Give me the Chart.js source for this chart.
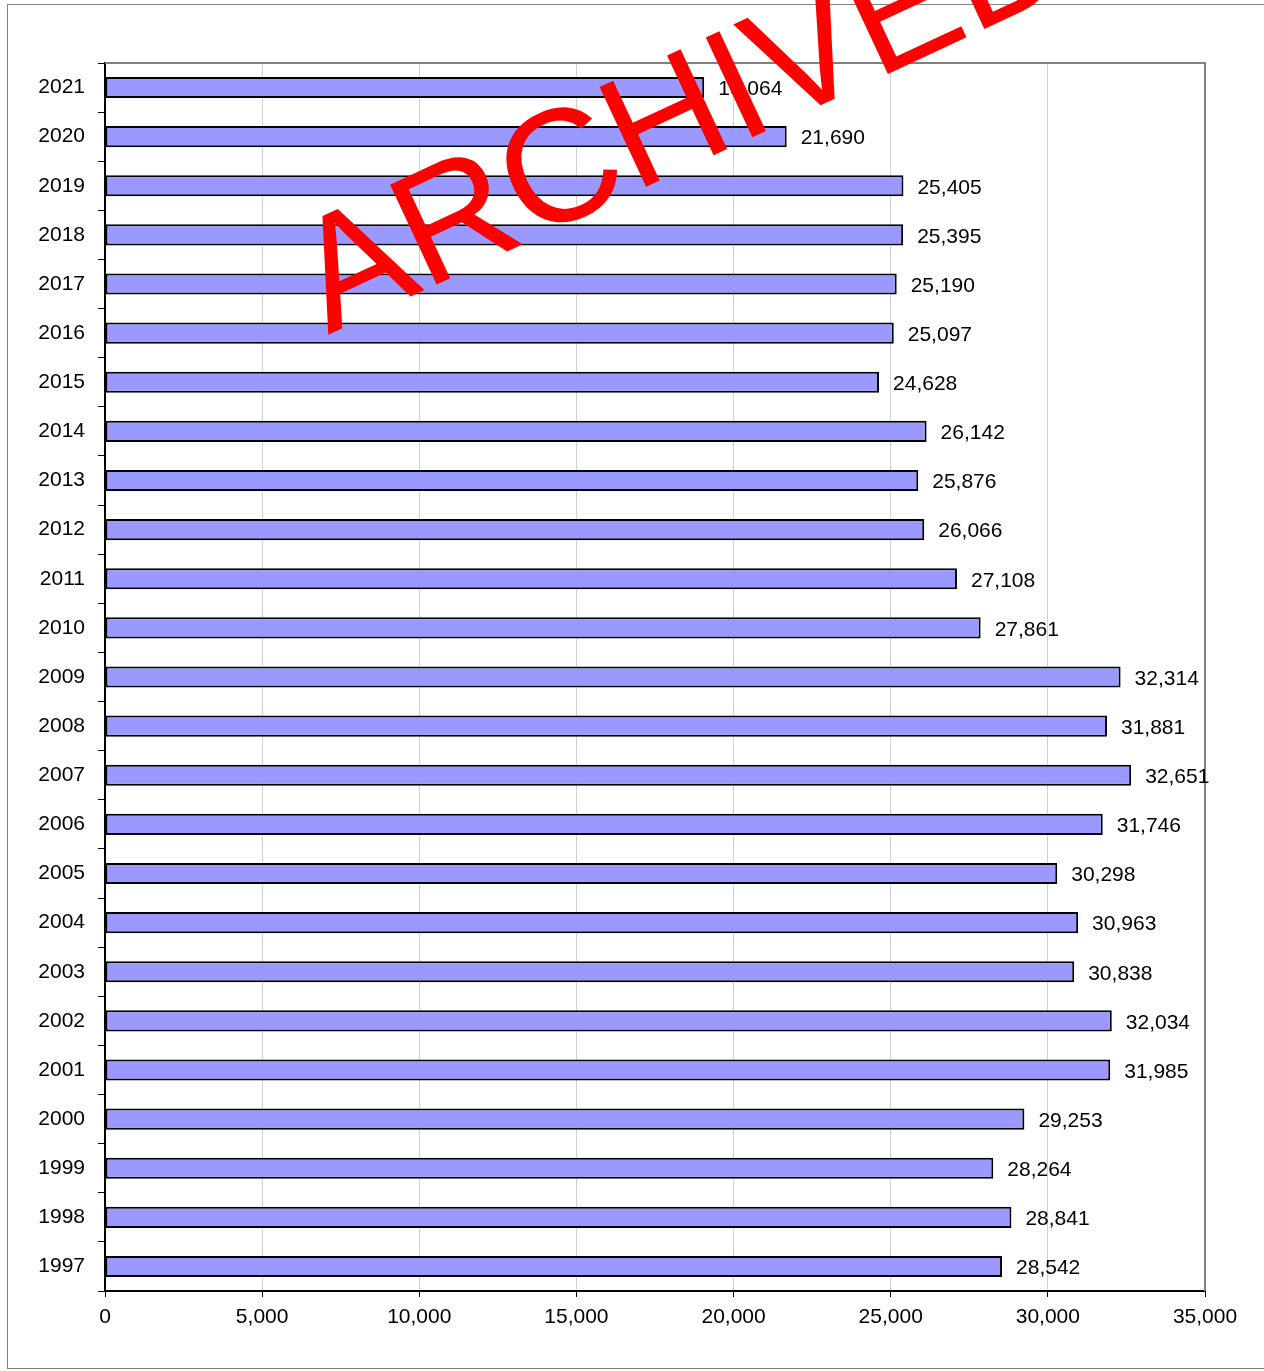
<!DOCTYPE html>
<html>
<head>
<meta charset="utf-8">
<script src="https://cdn.jsdelivr.net/npm/chart.js@4/dist/chart.umd.min.js"></script>
<style>
  html, body { margin: 0; padding: 0; background: #fff; overflow: hidden; }
  #frame { position: absolute; left: 7px; top: 4px; width: 1300px; height: 1363px; border: 1px solid #808080; }
  #chart { position: absolute; left: 0; top: 0; }
</style>
</head>
<body>
<div id="frame"></div>
<canvas id="chart" width="1264" height="1371"></canvas>
<script>
// years, top to bottom as in the picture
const years = ['2021', '2020', '2019', '2018', '2017', '2016', '2015', '2014', '2013',
    '2012', '2011', '2010', '2009', '2008', '2007', '2006', '2005', '2004', '2003',
    '2002', '2001', '2000', '1999', '1998', '1997'];

const values = [19064, 21690, 25405, 25395, 25190, 25097, 24628, 26142, 25876,
    26066, 27108, 27861, 32314, 31881, 32651, 31746, 30298, 30963, 30838,
    32034, 31985, 29253, 28264, 28841, 28542];

const xMax = 35000;
const xStep = 5000;
const watermark = 'ARCHIVED';

const FONT = 'Arial, "Liberation Sans", sans-serif';

// gray frame on top and right of the plot area
const plotFrame = {
    id: 'plotFrame',
    beforeDatasetsDraw(chart) {
        const a = chart.chartArea;
        const ctx = chart.ctx;
        ctx.save();
        ctx.strokeStyle = '#808080';
        ctx.lineWidth = 2;
        ctx.beginPath();
        ctx.moveTo(a.left, a.top);
        ctx.lineTo(a.right, a.top);
        ctx.lineTo(a.right, a.bottom);
        ctx.stroke();
        ctx.restore();
    }
};

// value labels right of each bar
const valueLabels = {
    id: 'valueLabels',
    afterDatasetsDraw(chart) {
        const ctx = chart.ctx;
        const meta = chart.getDatasetMeta(0);
        ctx.save();
        ctx.font = '21px ' + FONT;
        ctx.fillStyle = '#000';
        ctx.textAlign = 'left';
        ctx.textBaseline = 'middle';
        meta.data.forEach((bar, i) => {
            ctx.fillText(values[i].toLocaleString('en-US'), bar.x + 14, bar.y + 2);
        });
        ctx.restore();
    }
};

// red stamp across the top
const stamp = {
    id: 'stamp',
    afterDraw(chart) {
        const ctx = chart.ctx;
        ctx.save();
        ctx.translate(328, 335);
        ctx.rotate(-25 * Math.PI / 180);
        ctx.font = '160px ' + FONT;
        ctx.fillStyle = '#ff0000';
        ctx.textAlign = 'left';
        ctx.textBaseline = 'alphabetic';
        ctx.fillText(watermark, 0, 0);
        ctx.restore();
    }
};

new Chart(document.getElementById('chart').getContext('2d'), {
    type: 'bar',
    data: {
        labels: years,
        datasets: [{
            data: values,
            backgroundColor: '#9999ff',
            borderColor: '#000',
            borderWidth: 2,
            borderSkipped: false,
            categoryPercentage: 1,
            barPercentage: 0.43
        }]
    },
    options: {
        indexAxis: 'y',
        responsive: false,
        animation: false,
        layout: { padding: { left: 0, top: 63, right: 59, bottom: 0 } },
        plugins: {
            legend: { display: false },
            tooltip: { enabled: false }
        },
        scales: {
            x: {
                min: 0,
                max: xMax,
                afterFit(scale) { scale.height = 80; },
                ticks: {
                    stepSize: xStep,
                    color: '#000',
                    padding: 8,
                    font: { family: FONT, size: 21 },
                    callback: v => v.toLocaleString('en-US')
                },
                grid: {
                    color: 'rgba(0,0,0,0.18)',
                    borderDash: [2, 2],
                    tickColor: '#000',
                    tickBorderDash: [],
                    tickLength: 6,
                    lineWidth: 1
                },
                border: { color: '#000', width: 2 }
            },
            y: {
                afterFit(scale) { scale.width = 105; },
                ticks: {
                    color: '#000',
                    padding: 13,
                    font: { family: FONT, size: 21 }
                },
                grid: {
                    offset: true,
                    drawOnChartArea: false,
                    tickColor: '#000',
                    tickLength: 7,
                    lineWidth: 1
                },
                border: { color: '#000', width: 2 }
            }
        }
    },
    plugins: [plotFrame, valueLabels, stamp]
});
</script>
</body>
</html>
